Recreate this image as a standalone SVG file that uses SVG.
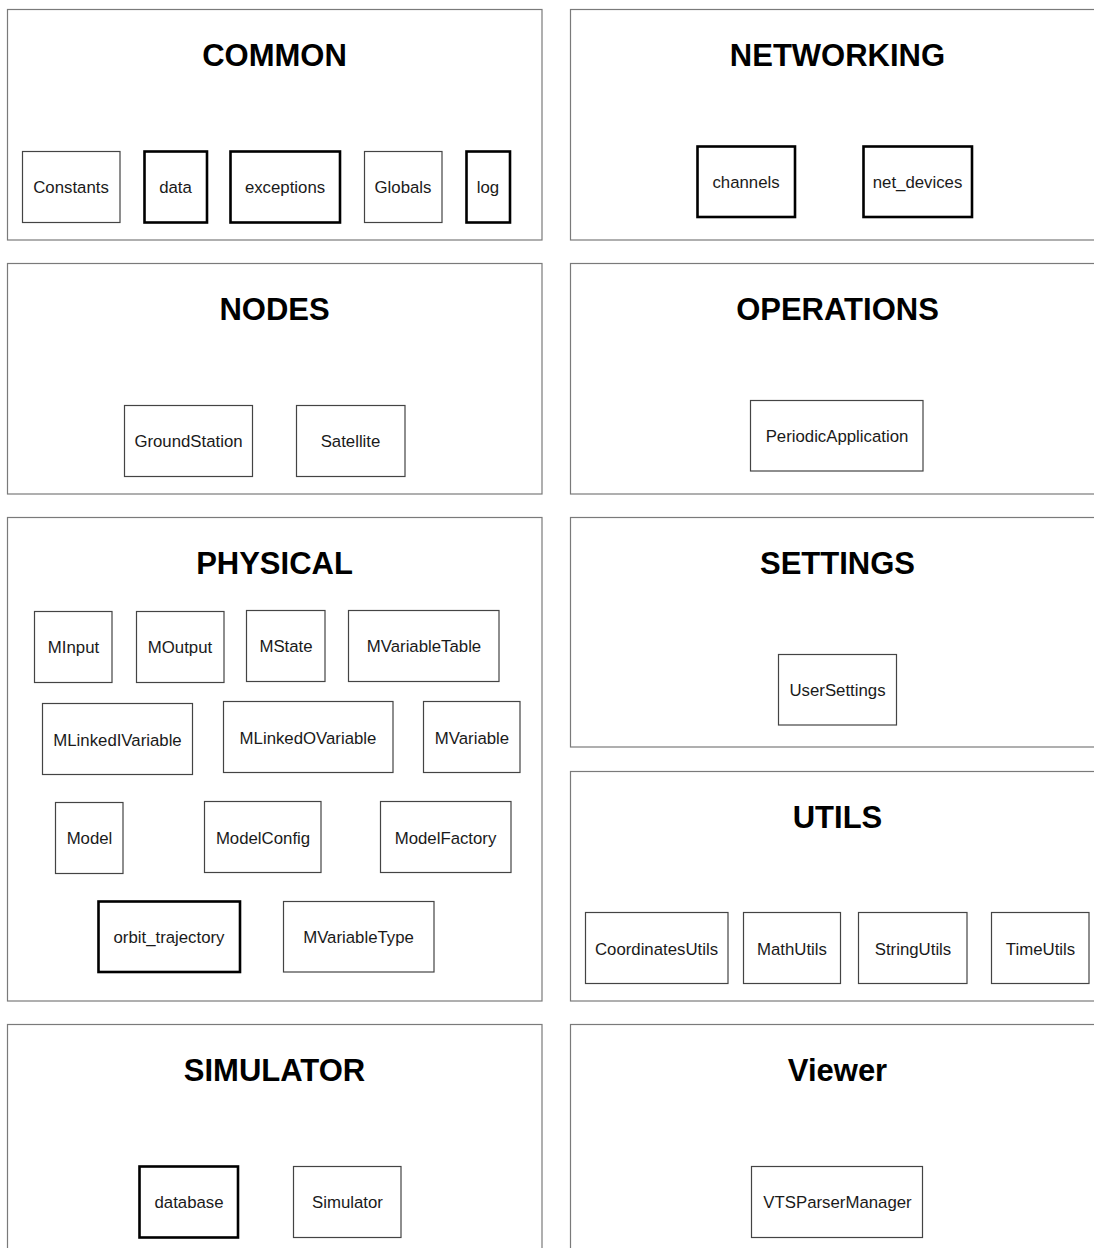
<svg xmlns="http://www.w3.org/2000/svg" width="1094" height="1248" viewBox="0 0 1094 1248">
  <style>
    .panel { fill: #ffffff; stroke: #7a7a7a; stroke-width: 1.2; }
    .title { font-family: "Liberation Sans", Arial, sans-serif; font-weight: bold; font-size: 31px; fill: #000; text-anchor: middle; }
    .box { fill: #ffffff; stroke: #444; stroke-width: 1.2; }
    .box.strong { stroke: #000; stroke-width: 2.6; }
    .label { font-family: "Liberation Sans", Arial, sans-serif; font-size: 16.8px; fill: #1a1a1a; text-anchor: middle; dominant-baseline: central; }
  </style>
  <rect x="0" y="0" width="1094" height="1248" fill="#ffffff"/>

  <!-- package panels -->
  <g id="pkg-common"><rect class="panel" x="7.5" y="9.5" width="534.5" height="230.5"/><text class="title" x="274.5" y="66">COMMON</text></g>
  <g id="pkg-networking"><rect class="panel" x="570.5" y="9.5" width="540" height="230.5"/><text class="title" x="837.5" y="66">NETWORKING</text></g>
  <g id="pkg-nodes"><rect class="panel" x="7.5" y="263.5" width="534.5" height="230.5"/><text class="title" x="274.5" y="320">NODES</text></g>
  <g id="pkg-operations"><rect class="panel" x="570.5" y="263.5" width="540" height="230.5"/><text class="title" x="837.5" y="320">OPERATIONS</text></g>
  <g id="pkg-physical"><rect class="panel" x="7.5" y="517.5" width="534.5" height="483.5"/><text class="title" x="274.5" y="574">PHYSICAL</text></g>
  <g id="pkg-settings"><rect class="panel" x="570.5" y="517.5" width="540" height="229.5"/><text class="title" x="837.5" y="574">SETTINGS</text></g>
  <g id="pkg-utils"><rect class="panel" x="570.5" y="771.5" width="540" height="229.5"/><text class="title" x="837.5" y="828">UTILS</text></g>
  <g id="pkg-simulator"><rect class="panel" x="7.5" y="1024.5" width="534.5" height="240"/><text class="title" x="274.5" y="1081">SIMULATOR</text></g>
  <g id="pkg-viewer"><rect class="panel" x="570.5" y="1024.5" width="540" height="240"/><text class="title" x="837.5" y="1081">Viewer</text></g>

  <!-- common -->
  <g id="n-constants"><rect class="box" x="22.5" y="151.5" width="97.5" height="71"/><text class="label" x="71" y="187">Constants</text></g>
  <g id="n-data"><rect class="box strong" x="144.5" y="151.5" width="62.5" height="71"/><text class="label" x="175.5" y="187">data</text></g>
  <g id="n-exceptions"><rect class="box strong" x="230.5" y="151.5" width="109.5" height="71"/><text class="label" x="285" y="187">exceptions</text></g>
  <g id="n-globals"><rect class="box" x="364.5" y="151.5" width="77.5" height="71"/><text class="label" x="403" y="187">Globals</text></g>
  <g id="n-log"><rect class="box strong" x="466.5" y="151.5" width="43.5" height="71"/><text class="label" x="488" y="187">log</text></g>

  <!-- networking -->
  <g id="n-channels"><rect class="box strong" x="697.5" y="146.5" width="97.5" height="70.5"/><text class="label" x="746" y="182">channels</text></g>
  <g id="n-net-devices"><rect class="box strong" x="863.5" y="146.5" width="108.5" height="70.5"/><text class="label" x="917.5" y="182">net_devices</text></g>

  <!-- nodes -->
  <g id="n-groundstation"><rect class="box" x="124.5" y="405.5" width="128" height="71"/><text class="label" x="188.5" y="441">GroundStation</text></g>
  <g id="n-satellite"><rect class="box" x="296.5" y="405.5" width="108.5" height="71"/><text class="label" x="350.5" y="441">Satellite</text></g>

  <!-- operations -->
  <g id="n-periodicapplication"><rect class="box" x="750.5" y="400.5" width="172.5" height="70.5"/><text class="label" x="837" y="436">PeriodicApplication</text></g>

  <!-- physical -->
  <g id="n-minput"><rect class="box" x="34.5" y="611.5" width="77.5" height="71"/><text class="label" x="73.5" y="647">MInput</text></g>
  <g id="n-moutput"><rect class="box" x="136.5" y="611.5" width="87.5" height="71"/><text class="label" x="180" y="647">MOutput</text></g>
  <g id="n-mstate"><rect class="box" x="246.5" y="610.5" width="78.5" height="71"/><text class="label" x="286" y="646">MState</text></g>
  <g id="n-mvariabletable"><rect class="box" x="348.5" y="610.5" width="150.5" height="71"/><text class="label" x="424" y="646">MVariableTable</text></g>
  <g id="n-mlinkedivariable"><rect class="box" x="42.5" y="703.5" width="150" height="71"/><text class="label" x="117.5" y="740">MLinkedIVariable</text></g>
  <g id="n-mlinkedovariable"><rect class="box" x="223.5" y="701.5" width="169.5" height="71"/><text class="label" x="308" y="738">MLinkedOVariable</text></g>
  <g id="n-mvariable"><rect class="box" x="423.5" y="701.5" width="96.5" height="71"/><text class="label" x="472" y="738">MVariable</text></g>
  <g id="n-model"><rect class="box" x="55.5" y="802.5" width="67.5" height="71"/><text class="label" x="89.5" y="838">Model</text></g>
  <g id="n-modelconfig"><rect class="box" x="204.5" y="801.5" width="116.5" height="71"/><text class="label" x="263" y="838">ModelConfig</text></g>
  <g id="n-modelfactory"><rect class="box" x="380.5" y="801.5" width="130.5" height="71"/><text class="label" x="445.5" y="838">ModelFactory</text></g>
  <g id="n-orbit-trajectory"><rect class="box strong" x="98.5" y="901.5" width="141.5" height="70.5"/><text class="label" x="169" y="937">orbit_trajectory</text></g>
  <g id="n-mvariabletype"><rect class="box" x="283.5" y="901.5" width="150.5" height="70.5"/><text class="label" x="358.5" y="937">MVariableType</text></g>

  <!-- settings -->
  <g id="n-usersettings"><rect class="box" x="778.5" y="654.5" width="118" height="70.5"/><text class="label" x="837.5" y="690">UserSettings</text></g>

  <!-- utils -->
  <g id="n-coordinatesutils"><rect class="box" x="585.5" y="912.5" width="142.5" height="71"/><text class="label" x="656.5" y="949">CoordinatesUtils</text></g>
  <g id="n-mathutils"><rect class="box" x="743.5" y="912.5" width="97" height="71"/><text class="label" x="792" y="949">MathUtils</text></g>
  <g id="n-stringutils"><rect class="box" x="858.5" y="912.5" width="108.5" height="71"/><text class="label" x="913" y="949">StringUtils</text></g>
  <g id="n-timeutils"><rect class="box" x="991.5" y="912.5" width="97.5" height="71"/><text class="label" x="1040.5" y="949">TimeUtils</text></g>

  <!-- simulator -->
  <g id="n-database"><rect class="box strong" x="139.5" y="1166.5" width="98.5" height="71"/><text class="label" x="189" y="1202">database</text></g>
  <g id="n-simulator"><rect class="box" x="293.5" y="1166.5" width="107.5" height="71"/><text class="label" x="347.5" y="1202">Simulator</text></g>

  <!-- viewer -->
  <g id="n-vtsparsermanager"><rect class="box" x="751.5" y="1166.5" width="171" height="71"/><text class="label" x="837.5" y="1202">VTSParserManager</text></g>

  <!-- no connectors between packages -->
  <g id="connectors"/>
</svg>
